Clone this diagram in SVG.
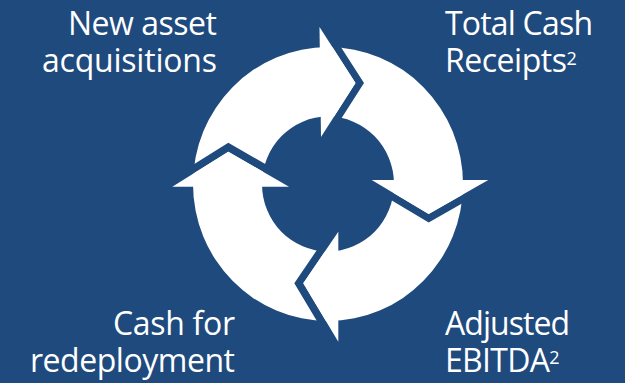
<svg xmlns="http://www.w3.org/2000/svg" width="625" height="383" viewBox="0 0 625 383">
  <style>
    .bg { fill: #1F4A7D; }
    .white { fill: #FFFFFF; }
    .gap { fill: #1F4A7D; }
    .label { font-family: "Open Sans", "Noto Sans", "Liberation Sans", sans-serif; font-size: 32px; fill: #FFFFFF; }
    .sup { font-size: 18px; }
  </style>
  <rect class="bg" x="0" y="0" width="625" height="383"/>
  <g id="connectors">
    <path id="ring" class="white" fill-rule="evenodd" d="M 193 184 A 135 137 0 1 0 463 184 A 135 137 0 1 0 193 184 Z M 262 184 A 66 67.5 0 1 0 394 184 A 66 67.5 0 1 0 262 184 Z"/>
    <g id="arrow-top">
      <polygon class="gap" points="319.5,27 328,27 364,83 329.5,137 321,137 355.5,83"/>
      <polygon class="white" points="319.5,27 355.5,83 321,137"/>
    </g>
    <g id="arrow-right">
      <polygon class="gap" points="371.7,180 371.7,188.5 428.7,222.5 488.3,188.5 488.3,180 428.7,214"/>
      <polygon class="white" points="371.7,180 428.7,214 488.3,180"/>
    </g>
    <g id="arrow-bottom">
      <polygon class="gap" points="338.3,231.7 329.3,231.7 294.3,283.3 329.3,341.7 338.3,341.7 303.3,283.3"/>
      <polygon class="white" points="338.3,231.7 303.3,283.3 338.3,341.7"/>
    </g>
    <g id="arrow-left">
      <polygon class="gap" points="289,186.7 289,177.7 228.3,142.7 172.3,177.7 172.3,186.7 228.3,151.7"/>
      <polygon class="white" points="289,186.7 228.3,151.7 172.3,186.7"/>
    </g>
  </g>
  <g id="node-new-asset">
    <text class="label" text-anchor="end"><tspan x="217" y="35" textLength="149" lengthAdjust="spacing">New asset</tspan><tspan x="217" y="71.5" textLength="175" lengthAdjust="spacing">acquisitions</tspan></text>
  </g>
  <g id="node-total-cash">
    <text class="label"><tspan x="445" y="35" textLength="148" lengthAdjust="spacing">Total Cash</tspan><tspan x="445" y="71.5" textLength="122" lengthAdjust="spacing">Receipts</tspan><tspan class="sup" dy="-7">2</tspan></text>
  </g>
  <g id="node-cash-redeployment">
    <text class="label" text-anchor="end"><tspan x="235" y="335" textLength="122" lengthAdjust="spacing">Cash for</tspan><tspan x="235" y="372" textLength="205" lengthAdjust="spacing">redeployment</tspan></text>
  </g>
  <g id="node-adjusted-ebitda">
    <text class="label"><tspan x="445" y="335" textLength="125" lengthAdjust="spacing">Adjusted</tspan><tspan x="445" y="372" textLength="105" lengthAdjust="spacing">EBITDA</tspan><tspan class="sup" dy="-8">2</tspan></text>
  </g>
</svg>
